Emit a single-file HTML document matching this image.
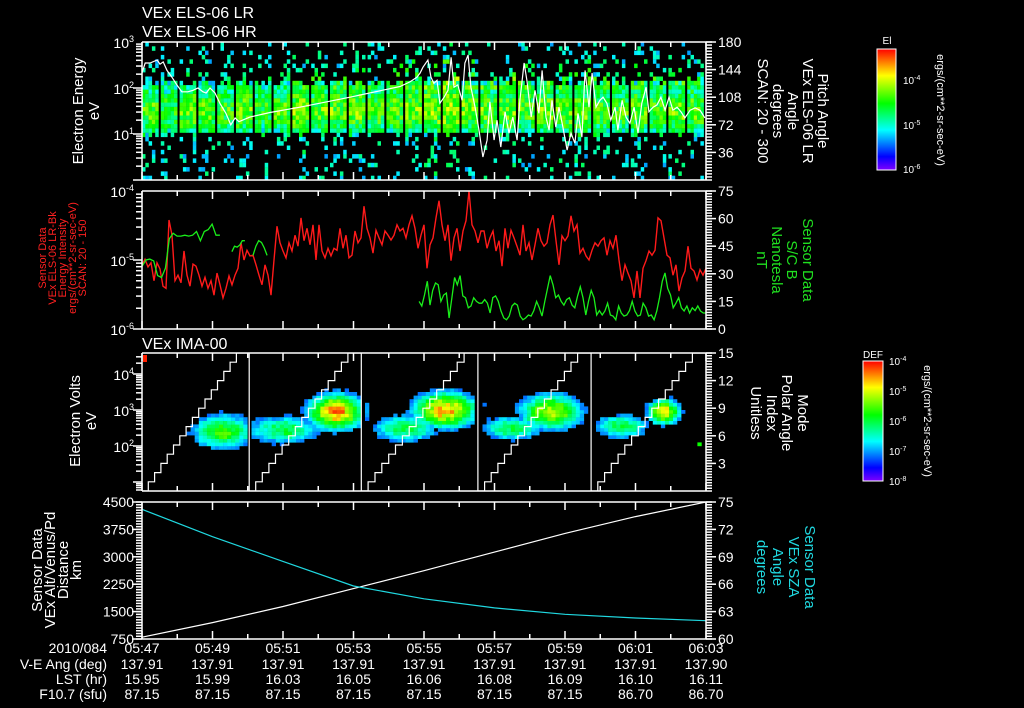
<!DOCTYPE html>
<html><head><meta charset="utf-8">
<style>
html,body{margin:0;padding:0;background:#000;}
svg{display:block;}
text{font-family:"Liberation Sans",sans-serif;fill:#fff;}
.t14{font-size:14px;}
.t13{font-size:13px;}
.t15{font-size:15px;}
.t16{font-size:16px;}
.t10{font-size:10px;}
.t11{font-size:11px;}
</style></head>
<body>
<svg id="chart" width="1024" height="708" viewBox="0 0 1024 708" xmlns="http://www.w3.org/2000/svg">
<defs>
<linearGradient id="rainbow" x1="0" y1="1" x2="0" y2="0">
<stop offset="0" stop-color="hsl(270,100%,50%)"/>
<stop offset="0.11" stop-color="hsl(240,100%,50%)"/>
<stop offset="0.33" stop-color="hsl(180,100%,50%)"/>
<stop offset="0.55" stop-color="hsl(120,100%,50%)"/>
<stop offset="0.78" stop-color="hsl(60,100%,50%)"/>
<stop offset="1" stop-color="hsl(0,100%,50%)"/>
</linearGradient>
<clipPath id="clip1"><rect x="142" y="42" width="564" height="138"/></clipPath>
<clipPath id="clip2"><rect x="142" y="191" width="564" height="138"/></clipPath>
<clipPath id="clip3"><rect x="142" y="353" width="564" height="138"/></clipPath>
<clipPath id="clip4"><rect x="142" y="502" width="564" height="137"/></clipPath>
</defs>

<text class="t16" x="142" y="18">VEx ELS-06 LR</text>
<text class="t16" x="142" y="37">VEx ELS-06 HR</text>
<text class="t16" x="142" y="349">VEx IMA-00</text>

<g id="p1"></g>
<g id="p2"></g>
<g id="p3"></g>
<g id="p4"></g>
<g id="axes"></g>

<g transform="translate(83,111) rotate(-90)">
<text class="t15" text-anchor="middle" x="0" y="0">Electron Energy</text>
<text class="t15" text-anchor="middle" x="0" y="16">eV</text>
</g>
<g>
<text class="t15" text-anchor="middle" transform="translate(818,111) rotate(90)">Pitch Angle</text>
<text class="t15" text-anchor="middle" transform="translate(803,111) rotate(90)">VEx ELS-06 LR</text>
<text class="t15" text-anchor="middle" transform="translate(788,111) rotate(90)">Angle</text>
<text class="t15" text-anchor="middle" transform="translate(773,111) rotate(90)">degrees</text>
<text class="t15" text-anchor="middle" transform="translate(758,111) rotate(90)">SCAN: 20 - 300</text>
</g>
<g>
<rect x="877" y="49" width="19" height="121" fill="url(#rainbow)" stroke="#fff" stroke-width="1"/>
<text class="t10" x="887" y="44" text-anchor="middle">El</text>
<text class="t10" x="903" y="84">10<tspan font-size="7" dy="-4">-4</tspan></text>
<text class="t10" x="903" y="129">10<tspan font-size="7" dy="-4">-5</tspan></text>
<text class="t10" x="903" y="173">10<tspan font-size="7" dy="-4">-6</tspan></text>
<text class="t11" text-anchor="middle" transform="translate(937,110) rotate(90)">ergs/(cm**2-sr-sec-eV)</text>
</g>

<g>
<text class="t11" style="fill:#ff2020" text-anchor="middle" transform="translate(46,258) rotate(-90)">Sensor Data</text>
<text class="t11" style="fill:#ff2020" text-anchor="middle" transform="translate(56,258) rotate(-90)">VEx ELS-06 LR-Bk</text>
<text class="t11" style="fill:#ff2020" text-anchor="middle" transform="translate(66,258) rotate(-90)">Energy Intensity</text>
<text class="t11" style="fill:#ff2020" text-anchor="middle" transform="translate(76,258) rotate(-90)">ergs/(cm**2-sr-sec-eV)</text>
<text class="t11" style="fill:#ff2020" text-anchor="middle" transform="translate(86,258) rotate(-90)">SCAN: 20 - 150</text>
</g>
<g>
<text class="t15" style="fill:#20e020" text-anchor="middle" transform="translate(803,260) rotate(90)">Sensor Data</text>
<text class="t15" style="fill:#20e020" text-anchor="middle" transform="translate(787,260) rotate(90)">S/C B</text>
<text class="t15" style="fill:#20e020" text-anchor="middle" transform="translate(772,260) rotate(90)">Nanotesla</text>
<text class="t15" style="fill:#20e020" text-anchor="middle" transform="translate(757,260) rotate(90)">nT</text>
</g>

<g transform="translate(80,421) rotate(-90)">
<text class="t15" text-anchor="middle" x="0" y="0">Electron Volts</text>
<text class="t15" text-anchor="middle" x="0" y="16">eV</text>
</g>
<g>
<text class="t15" text-anchor="middle" transform="translate(798,413) rotate(90)">Mode</text>
<text class="t15" text-anchor="middle" transform="translate(782,413) rotate(90)">Polar Angle</text>
<text class="t15" text-anchor="middle" transform="translate(767,413) rotate(90)">Index</text>
<text class="t15" text-anchor="middle" transform="translate(751,413) rotate(90)">Unitless</text>
</g>
<g>
<rect x="863" y="361" width="20" height="120" fill="url(#rainbow)" stroke="#fff" stroke-width="1"/>
<text class="t10" x="873" y="358" text-anchor="middle">DEF</text>
<text class="t10" x="889" y="365">10<tspan font-size="7" dy="-4">-4</tspan></text>
<text class="t10" x="889" y="395">10<tspan font-size="7" dy="-4">-5</tspan></text>
<text class="t10" x="889" y="425">10<tspan font-size="7" dy="-4">-6</tspan></text>
<text class="t10" x="889" y="455">10<tspan font-size="7" dy="-4">-7</tspan></text>
<text class="t10" x="889" y="485">10<tspan font-size="7" dy="-4">-8</tspan></text>
<text class="t11" text-anchor="middle" transform="translate(924,421) rotate(90)">ergs/(cm**2-sr-sec-eV)</text>
</g>

<g>
<text class="t15" text-anchor="middle" transform="translate(42,570) rotate(-90)">Sensor Data</text>
<text class="t15" text-anchor="middle" transform="translate(55,570) rotate(-90)">VEx Alt/Venus/Pd</text>
<text class="t15" text-anchor="middle" transform="translate(68,570) rotate(-90)">Distance</text>
<text class="t15" text-anchor="middle" transform="translate(81,570) rotate(-90)">km</text>
</g>
<g>
<text class="t15" style="fill:#20d8e0" text-anchor="middle" transform="translate(805,567) rotate(90)">Sensor Data</text>
<text class="t15" style="fill:#20d8e0" text-anchor="middle" transform="translate(789,567) rotate(90)">VEx SZA</text>
<text class="t15" style="fill:#20d8e0" text-anchor="middle" transform="translate(773,567) rotate(90)">Angle</text>
<text class="t15" style="fill:#20d8e0" text-anchor="middle" transform="translate(757,567) rotate(90)">degrees</text>
</g>

<g>
<text class="t14" x="107" y="653" text-anchor="end">2010/084</text>
<text class="t14" x="107" y="669" text-anchor="end">V-E Ang (deg)</text>
<text class="t14" x="107" y="684" text-anchor="end">LST (hr)</text>
<text class="t14" x="107" y="699" text-anchor="end">F10.7 (sfu)</text>
</g>
<g id="ephem"></g>
</svg>

<script>
const timeLabels = ["05:47","05:49","05:51","05:53","05:55","05:57","05:59","06:01","06:03"];
const veAng = ["137.91","137.91","137.91","137.91","137.91","137.91","137.91","137.91","137.90"];
const lstHr = ["15.95","15.99","16.03","16.05","16.06","16.08","16.09","16.10","16.11"];
const f107 = ["87.15","87.15","87.15","87.15","87.15","87.15","87.15","86.70","86.70"];

// panel 1 : ELS spectrogram
const elsRowProfile = [0.06,0.08,0.07,0.08,0.07,0.08,0.07,0.08,0.07,0.09,0.18,0.42,0.48,0.53,0.57,0.59,0.59,0.57,0.54,0.50,0.46,0.42,0.30,0.18,0.12,0.08,0.08,0.06,0.06,0.05,0.05,0.04];
const elsSweepGain = [0,-0.03,0.02,0,-0.02,0.03,-0.03,0,0.05,0.02,0.03,0.03,0,0.02,0.04,0.06,0.08,0.04,0.02,0.03,0,0.02,0.03,0.03,0,-0.02,0.02,0,0.02,0.01];
const elsSweepUpper = [0,0,0,0,0,0,0,0.05,0.05,0.05,0.08,0.08,0.08,0.1,0.1,0.1,0.12,0.12,0.12,0.12,0.12,0.12,0.12,0.12,0.12,0.12,0.1,0.1,0.1,0.1];
const texture = [0.05,-0.2,0.18,-0.05,0.22,-0.15,0.1,-0.25,0.02,0.15,-0.1,0.24,-0.18,0.07,-0.02,0.2,-0.22,0.12,-0.08,0.16,-0.12,0.03,0.25,-0.2,0.09,-0.04,0.13,-0.16,0.19];
const pitchTimes = [0,0.09,0.23,0.43,0.51,0.60,0.71,0.85,0.99,1.13,1.30,1.45,1.59,1.73,1.82,1.93,2.07,2.21,2.38,2.52,2.64,2.75,3.06,3.63,4.48,5.90,7.32,7.60,7.80,7.89,7.97,8.11,8.20,8.28,8.37,8.45,8.57,8.68,8.77,8.85,8.96,9.08,9.16,9.25,9.33,9.45,9.56,9.67,9.79,9.87,9.99,10.07,10.18,10.30,10.41,10.52,10.64,10.72,10.84,10.92,11.04,11.15,11.26,11.35,11.46,11.55,11.63,11.74,11.83,11.94,12.06,12.17,12.28,12.37,12.48,12.57,12.68,12.77,12.88,12.99,13.08,13.19,13.30,13.42,13.50,13.62,13.73,13.84,13.96,14.07,14.18,14.30,14.38,14.50,14.61,14.72,14.84,14.95,15.06,15.18,15.29,15.40,15.55,15.69,15.83,15.97];
const pitchDeg = [139.5,152.6,152.6,156.5,151,154,143,134,124,115,115,117,120,115,113.5,120,113.5,100,87,72,81,76,82,88,95,108,122,128,134,139.5,147,156.5,134,126,130,100,108,117,160,121,124,104,152.6,163,121,95,65,30,52,102,52,78,43,89,61,82,52,104,152.6,130,82,117,87,143,82,65,104,69,95,69,39,61,48,87,56,143,95,139.5,95,104,108,100,78,95,65,104,82,74,95,61,100,121,89,95,98,108,91,108,91,95,89,81,91,94,91,81];

// panel 2
const fluxLog = [-5.07,-4.99,-5.10,-5.04,-5.30,-5.04,-5.13,-5.38,-5.41,-4.42,-4.64,-5.30,-5.22,-5.33,-4.87,-5.22,-5.38,-5.06,-5.09,-5.22,-5.38,-5.25,-5.41,-5.30,-5.51,-5.19,-5.36,-5.55,-5.41,-5.23,-5.36,-5.22,-5.12,-4.75,-5.00,-4.86,-4.94,-4.93,-5.07,-5.22,-5.36,-5.07,-5.22,-5.51,-5.00,-4.51,-4.75,-4.87,-4.97,-4.75,-4.87,-4.64,-4.80,-4.39,-4.72,-4.54,-4.78,-4.49,-5.00,-4.49,-4.87,-4.97,-4.83,-4.94,-4.83,-4.86,-4.54,-4.83,-4.64,-4.97,-4.93,-4.58,-4.75,-4.68,-4.22,-4.54,-4.68,-4.90,-4.57,-4.68,-4.78,-4.58,-4.64,-4.71,-4.64,-4.49,-4.58,-4.54,-4.68,-4.49,-4.36,-4.54,-4.83,-4.64,-4.49,-5.12,-4.78,-4.68,-4.39,-4.14,-4.49,-4.72,-4.49,-5.01,-4.68,-4.54,-4.87,-4.58,-4.43,-4.00,-4.49,-4.58,-4.75,-4.58,-4.58,-4.83,-4.68,-4.58,-4.87,-4.72,-5.09,-4.54,-4.83,-4.57,-4.68,-4.80,-4.93,-4.49,-4.87,-4.75,-5.00,-4.78,-4.54,-4.72,-4.80,-4.75,-4.49,-4.35,-4.72,-5.07,-4.65,-4.72,-4.65,-4.36,-4.58,-4.49,-4.90,-4.83,-4.94,-5.00,-4.86,-4.75,-4.80,-4.72,-4.68,-4.93,-4.72,-4.83,-4.64,-5.00,-5.30,-5.07,-5.19,-5.30,-5.55,-5.16,-5.55,-5.12,-5.01,-4.87,-4.93,-4.86,-4.39,-4.43,-4.68,-4.93,-4.97,-5.22,-5.07,-5.45,-5.26,-5.16,-4.80,-5.12,-5.16,-5.29,-5.14,-5.22,-5.12];
const bSegStart = [0, 2.55, 3.15, 7.86];
const bSegEnd = [2.21, 2.92, 3.55, 16.0];
const bSeg1 = [34,37.5,38,37,29,28,33,49,52,50.5,50.5,51,50.5,51,53,48,53,54,57,51,51];
const bSeg2 = [42,45,44.5,45.6,48,48];
const bSeg3 = [40,45,48,47,44,40];
const bSeg4 = [15,12.5,18.5,26,13,21,25,24,15,18.5,19.5,6,17,28,24,29,18,17,11.5,12.5,17,15,14,14,16,14,8.7,17,18,15,9.8,6,5,7,12.5,14,13,7,5,6,7.6,7,10,15,11.5,7,15,22,29,24,17,18.5,15,13,16,17,13,11.5,18,23,17,7.6,15,21,17,7.6,10,7.6,9.8,14,7.6,7,5,12.5,8.7,7,7.6,10,15,9.8,7,7.6,14,11.5,7,7.6,5,9.8,17,26,30.5,22,18.5,11.5,14,17,11.5,9.8,12.5,8.7,11.5,10,12.5,9.8,8.7,8.7];

// panel 3
const scanStarts = [0, 3.04, 6.22, 9.53, 12.74];
const scanEnds = [3.04, 6.22, 9.53, 12.74, 16.0];
const blobT = [2.3, 4.0, 5.5, 7.5, 8.6, 10.5, 11.6, 13.6, 14.8, 15.8];
const blobE = [2.4, 2.45, 2.95, 2.5, 3.0, 2.5, 2.95, 2.55, 2.95, 2.05];
const blobTW = [0.9, 1.1, 0.8, 1.0, 0.9, 0.9, 0.9, 0.8, 0.45, 0.1];
const blobEW = [0.5, 0.4, 0.5, 0.4, 0.5, 0.35, 0.5, 0.35, 0.35, 0.06];
const blobPeak = [0.6, 0.5, 0.88, 0.5, 0.85, 0.5, 0.72, 0.5, 0.82, 0.55];

// panel 4
const ephTimes = [0,2,4,6,8,10,12,14,16];
const altitudeKm = [800,1200,1640,2130,2620,3130,3640,4100,4500];
const szaDeg = [74.2,71.2,68.5,65.8,64.4,63.4,62.7,62.3,62.0];

const X0 = 142, X1 = 706;
const xT = t => X0 + t * (X1 - X0) / 16;
const y1E = e => 180 - e * 46;
const y1PA = d => 180 - d / 180 * 138;
const y2F = l => 191 + (-4 - l) * 69;
const y2B = b => 329 - b * 138 / 75;
const y3E = e => 410 - (e - 3) * 36;
const y3M = i => 491 - i * 138 / 15;
const y4A = a => 639 - (a - 750) / 3750 * 137;
const y4S = s => 639 - (s - 60) / 15 * 137;
const NS = "http://www.w3.org/2000/svg";
function mk(tag, attrs, parent) {
  const el = document.createElementNS(NS, tag);
  for (const k in attrs) el.setAttribute(k, attrs[k]);
  parent.appendChild(el);
  return el;
}
function noise(a, b, c) {
  const h = (((a * 73856093) ^ (b * 19349663) ^ (c * 83492791)) >>> 0) % texture.length;
  return texture[h];
}
function color(l) {
  l = Math.max(0, Math.min(1, l));
  let h;
  if (l < 0.11) h = 270 - l / 0.11 * 30;
  else if (l < 0.33) h = 240 - (l - 0.11) / 0.22 * 60;
  else if (l < 0.55) h = 180 - (l - 0.33) / 0.22 * 60;
  else if (l < 0.78) h = 120 - (l - 0.55) / 0.23 * 60;
  else h = 60 - (l - 0.78) / 0.22 * 60;
  return "hsl(" + h.toFixed(0) + ",100%,50%)";
}

// draw panel 1
const p1 = document.getElementById("p1");
const g1 = mk("g", {"clip-path": "url(#clip1)"}, p1);


const nSweeps = elsSweepGain.length;
const sweepDur = 16 / nSweeps;
const colsPerSweep = 5;
const eStep = 3 / elsRowProfile.length;
for (let s = 0; s < nSweeps; s++) {
  for (let c = 0; c < colsPerSweep; c++) {
    const t0 = s * sweepDur + c * sweepDur * 0.88 / colsPerSweep;
    const t1 = t0 + sweepDur * 0.88 / colsPerSweep;
    for (let r = 0; r < elsRowProfile.length; r++) {
      const base = elsRowProfile[r];
      const amp = base > 0.4 ? 0.55 : 1;
      let lv = base + elsSweepGain[s] + (r >= 21 && r <= 27 ? elsSweepUpper[s] : 0) + amp * noise(r + 1, s * 5 + c + 3, 7);
      if (base < 0.3) { if (noise(r + 5, s * 5 + c + 11, 3) < 0.12) continue; lv += 0.12; }
      if (lv < 0.25) continue;
      const rc = mk("rect", {x: xT(t0).toFixed(1), y: y1E((r + 1) * eStep).toFixed(1), width: (xT(t1) - xT(t0) + 0.2).toFixed(1), height: (eStep * 46 + 0.2).toFixed(1), fill: color(lv)}, g1);
      
      
    }
  }
}
const paLine = mk("polyline", {points: pitchTimes.map((t, i) => xT(t).toFixed(1) + "," + y1PA(pitchDeg[i]).toFixed(1)).join(" "), fill: "none", stroke: "#fff", "stroke-width": 1.2}, g1);



// draw panel 2
const p2 = document.getElementById("p2");
const g2 = mk("g", {"clip-path": "url(#clip2)"}, p2);
const fl = mk("polyline", {points: fluxLog.map((v, i) => xT(i * 16 / (fluxLog.length - 1)).toFixed(1) + "," + y2F(v).toFixed(1)).join(" "), fill: "none", stroke: "#ff1a1a", "stroke-width": 1.4}, g2);


const bSegs = [bSeg1, bSeg2, bSeg3, bSeg4];
bSegs.forEach((seg, k) => {
  const t0 = bSegStart[k], t1 = bSegEnd[k];
  const pl = mk("polyline", {points: seg.map((v, i) => xT(t0 + i * (t1 - t0) / (seg.length - 1)).toFixed(1) + "," + y2B(v).toFixed(1)).join(" "), fill: "none", stroke: "#1aee1a", "stroke-width": 1.3}, g2);
  
  
});

// draw panel 3
const p3 = document.getElementById("p3");
const g3 = mk("g", {"clip-path": "url(#clip3)"}, p3);
const imaDt = 0.115, imaDe = 0.1;
for (let t = 0; t < 16; t += imaDt) {
  const tc = t + imaDt / 2;
  let inGap = false;
  scanStarts.forEach(s0 => { if (s0 > 0 && tc > s0 - 0.05 && tc < s0 + 0.12) inGap = true; });
  if (inGap) continue;
  const ci = Math.round(tc / imaDt);
  for (let e = 0.8; e < 4.6; e += imaDe) {
    const ec = e + imaDe / 2;
    let lv = 0;
    for (let b = 0; b < blobT.length; b++) {
      const dt = (tc - blobT[b]) / blobTW[b], de = (ec - blobE[b]) / blobEW[b];
      lv = Math.max(lv, blobPeak[b] * Math.exp(-(dt * dt + de * de)));
    }
    const ri = Math.round(e * 10);
    lv += 0.45 * lv * noise(ri + 2, ci + 1, 5) + 0.1 * noise(ci + 7, ri + 3, 9);
    if (lv < 0.2) continue;
    const rc = mk("rect", {x: xT(t).toFixed(1), y: y3E(e + imaDe).toFixed(1), width: (imaDt * 35.25 + 0.2).toFixed(1), height: (imaDe * 36 + 0.2).toFixed(1), fill: color(lv)}, g3);
    
    
  }
}
const hot = mk("rect", {x: 143, y: 355, width: 4, height: 7, fill: "#ff2000"}, g3);


let stair = [];
scanStarts.forEach((s0, k) => {
  const s1 = scanEnds[k], step = (s1 - s0) * 0.94 / 16;
  for (let i = 0; i < 16; i++) {
    stair.push([xT(s0 + i * step), y3M(i)]);
    stair.push([xT(s0 + (i + 1) * step), y3M(i)]);
  }
  stair.push([xT(s1), y3M(15)]);
  if (k < scanStarts.length - 1) stair.push([xT(s1), y3M(0)]);
});
const st = mk("polyline", {points: stair.map(p => p[0].toFixed(1) + "," + p[1].toFixed(1)).join(" "), fill: "none", stroke: "#fff", "stroke-width": 1.2}, g3);



// draw panel 4
const p4 = document.getElementById("p4");
const g4 = mk("g", {"clip-path": "url(#clip4)"}, p4);
function pts(vals, yf) {
  return vals.map((v, i) => xT(ephTimes[i]).toFixed(1) + "," + yf(v).toFixed(1)).join(" ");
}
const altL = mk("polyline", {points: pts(altitudeKm, y4A), fill: "none", stroke: "#fff", "stroke-width": 1.2}, g4);


const szaL = mk("polyline", {points: pts(szaDeg, y4S), fill: "none", stroke: "#20d8e0", "stroke-width": 1.2}, g4);



// axes
const ax = document.getElementById("axes");
function line(x1, y1, x2, y2, name) {
  const l = mk("line", {x1: x1, y1: y1, x2: x2, y2: y2, stroke: "#fff", "stroke-width": 1.5}, ax);
  
  
}
function txt(x, y, s, anchor, cls, name) {
  const t = mk("text", {x: x, y: y, "text-anchor": anchor, class: cls}, ax);
  t.textContent = s;
  
  
  return t;
}
function pow10(x, y, exp, name) {
  const t = mk("text", {x: x, y: y, "text-anchor": "end", class: "t14"}, ax);
  
  
  t.textContent = "10";
  const sp = mk("tspan", {"font-size": "9", dy: "-6"}, t);
  sp.textContent = String(exp);
  return t;
}
const panels = [[42, 180], [191, 329], [353, 491], [502, 639]];
panels.forEach(([top, bot]) => {
  line(X0, top, X1, top, "panel-frame");
  line(X0, bot, X1, bot, "panel-frame");
  line(X0, top, X0, bot, "panel-frame");
  line(X1, top, X1, bot, "panel-frame");
  for (let m = 0; m <= 16; m++) {
    const len = m % 2 === 0 ? 8 : 5;
    line(xT(m), top, xT(m), top + len, "x-tick");
    line(xT(m), bot, xT(m), bot - len, "x-tick");
  }
});
function logAxis(lo, hi, yf, labelExps, name) {
  for (let d = Math.floor(lo); d < hi; d++) {
    for (let k = 1; k <= 9; k++) {
      const e = d + Math.log10(k);
      if (e < lo - 1e-6 || e > hi + 1e-6) continue;
      line(X0 - (k === 1 ? 9 : 6), yf(e), X0, yf(e), name + "-tick");
    }
  }
  labelExps.forEach(e => pow10(X0 - 8, yf(e) + 6, e, name + "-label"));
}
logAxis(0, 3, y1E, [1, 2, 3], "els-energy");
logAxis(-6, -4, y2F, [-6, -5, -4], "flux");
logAxis(0.76, 4.58, y3E, [2, 3, 4], "ima-energy");
function linAxisRight(lo, hi, minor, majors, yf, name) {
  for (let v = lo; v <= hi + 1e-6; v += minor) line(X1, yf(v), X1 + 6, yf(v), name + "-tick");
  majors.forEach(v => { line(X1, yf(v), X1 + 10, yf(v), name + "-tick"); txt(X1 + 12, yf(v) + 5, String(v), "start", "t14", name + "-label"); });
}
linAxisRight(0, 180, 4, [36, 72, 108, 144, 180], y1PA, "pitch-angle");
linAxisRight(0, 75, 1.5, [0, 15, 30, 45, 60, 75], y2B, "bfield");
linAxisRight(0, 15, 0.3, [3, 6, 9, 12, 15], y3M, "mode");
linAxisRight(60, 75, 0.3, [60, 63, 66, 69, 72, 75], y4S, "sza");
for (let v = 750; v <= 4500; v += 75) line(X0 - 6, y4A(v), X0, y4A(v), "altitude-tick");
[750, 1500, 2250, 3000, 3750, 4500].forEach(v => { line(X0 - 10, y4A(v), X0, y4A(v), "altitude-tick"); txt(X0 - 8, y4A(v) + 5, String(v), "end", "t14", "altitude-label"); });

const eph = document.getElementById("ephem");
timeLabels.forEach((s, i) => {
  const x = xT(i * 2);
  [[s, 653], [veAng[i], 669], [lstHr[i], 684], [f107[i], 699]].forEach(([v, y]) => {
    const t = mk("text", {x: x, y: y, "text-anchor": "middle", class: "t14"}, eph);
    t.textContent = v;
    
    
  });
});
</script>
</body></html>
